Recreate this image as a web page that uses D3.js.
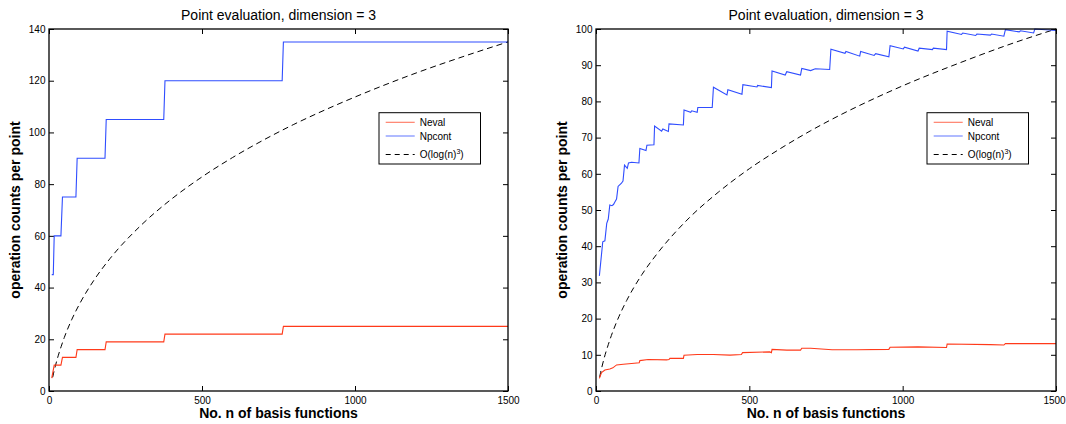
<!DOCTYPE html>
<html>
<head>
<meta charset="utf-8">
<script src="https://cdn.jsdelivr.net/npm/d3@7"></script>
<style>
    body { margin: 0; background: #fff; }
    svg { font-family: "Liberation Sans", Arial, Helvetica, sans-serif; }
    .tick text { font-size: 10px; fill: #000; }
    .tick line { stroke: #000; }
</style>
</head>
<body>
<svg id="chart" width="1066" height="424"></svg>
<script>
const titleText = "Point evaluation, dimension = 3";
const xLabelText = "No. n of basis functions";
const yLabelText = "operation counts per point";
const legendLabels = ["Neval", "Npcont", "O(log(n)"];

const xTicks = [0, 500, 1000, 1500];
const leftYTicks = [0, 20, 40, 60, 80, 100, 120, 140];
const rightYTicks = [0, 10, 20, 30, 40, 50, 60, 70, 80, 90, 100];

// left panel
const leftNevalN = [9, 17, 39, 44, 88, 92, 183, 187, 375, 379, 762, 766, 1500];
const leftNeval = [5, 10, 10, 13, 13, 16, 16, 19, 19, 22, 22, 25, 25];
const leftNpcontN = [9, 14, 17, 39, 44, 88, 92, 183, 187, 375, 379, 762, 766, 1500];
const leftNpcont = [45, 45, 60, 60, 75, 75, 90, 90, 105, 105, 120, 120, 135, 135];
const leftRefN = [12, 15, 20, 30, 40, 50, 75, 100, 150, 200, 300, 400, 500, 600, 700, 800, 900, 1000, 1200, 1350, 1500];
const leftRef = [5.3, 6.9, 9.3, 13.6, 17.3, 20.7, 27.8, 33.7, 43.4, 51.3, 64.0, 74.2, 82.8, 90.3, 97.0, 103.1, 108.6, 113.7, 123.0, 129.2, 135];

// right panel
const rightNevalN = [11, 18, 29, 45, 55, 67, 89, 116, 141, 143, 170, 230, 238, 241, 285, 287, 330, 383, 437, 474,
    478, 566, 572, 574, 622, 667, 671, 700, 770, 850, 955, 959, 1050, 1143, 1145, 1286, 1330, 1335, 1500];
const rightNeval = [3.5, 5.1, 5.8, 6.1, 6.4, 7.2, 7.4, 7.6, 7.8, 8.4, 8.7, 8.6, 8.7, 9.0, 9.0, 9.9, 10.1, 10.1, 9.9, 10.1,
    10.6, 10.8, 10.6, 11.5, 11.3, 11.3, 11.8, 11.8, 11.4, 11.4, 11.5, 12.1, 12.2, 12.0, 13.0, 12.8, 12.7, 13.1, 13.1];
const rightNpcontN = [11, 22, 29, 35, 40, 45, 52, 57, 62, 67, 72, 83, 88, 93, 102, 106, 116, 140, 143, 163,
    166, 189, 191, 214, 218, 236, 238, 285, 287, 309, 312, 330, 332, 379, 383, 427, 430, 476, 479, 525,
    527, 572, 574, 617, 622, 667, 671, 700, 715, 762, 766, 812, 815, 860, 863, 907, 912, 955, 959, 1002,
    1006, 1050, 1054, 1097, 1100, 1143, 1145, 1192, 1196, 1238, 1242, 1286, 1290, 1330, 1335, 1380, 1384, 1427, 1431, 1500];
const rightNpcont = [31.8, 41.2, 41.5, 46.3, 47.5, 51.4, 51.2, 51.5, 52.3, 53.0, 56.5, 57.4, 58.0, 62.4, 61.5, 63.0, 63.2, 63.0, 67.0, 66.4,
    67.9, 68.0, 73.2, 71.8, 72.4, 71.7, 73.8, 73.5, 77.6, 77.0, 77.4, 77.0, 78.3, 78.3, 83.9, 81.8, 83.2, 82.0, 84.6, 84.0,
    84.4, 83.8, 88.4, 87.3, 88.2, 87.3, 89.1, 88.5, 89.0, 88.8, 94.4, 93.3, 93.8, 92.5, 93.8, 92.7, 93.2, 92.3, 95.4, 94.5,
    95.0, 93.9, 94.7, 94.3, 94.7, 94.3, 99.4, 98.5, 98.9, 98.2, 98.6, 98.3, 98.6, 98.0, 99.8, 99.2, 99.5, 98.9, 100, 99.6];
const rightRefN = leftRefN;
const rightRef = [3.9, 5.1, 6.9, 10.1, 12.8, 15.3, 20.6, 25.0, 32.2, 38.0, 47.5, 55.0, 61.4, 66.9, 71.9, 76.4, 80.5, 84.3, 91.1, 95.8, 100];

const nevalColor = "#ff3a1a";
const npcontColor = "#2f4dff";
const tickLen = 5;

const svg = d3.select("#chart");

const zip = (ns, vs) => ns.map((n, i) => [n, vs[i]]);

function drawPanel(p) {
    const x = d3.scaleLinear().domain([0, 1500]).range([p.left, p.right]);
    const y = d3.scaleLinear().domain([0, p.yMax]).range([p.bottom, p.top]);
    const g = svg.append("g");

    // axes, ticks pointing inside on all four sides
    const xb = g.append("g")
        .attr("transform", `translate(0,${p.bottom})`)
        .call(d3.axisBottom(x).tickValues(xTicks).tickSize(-tickLen).tickPadding(6).tickFormat(d3.format("d")));
    // keep the last label inside the window
    if (p.right > 1050) xb.selectAll(".tick text").filter(d => d === 1500).attr("dx", -2);
    g.append("g")
        .attr("transform", `translate(0,${p.top})`)
        .call(d3.axisTop(x).tickValues(xTicks).tickSize(-tickLen).tickFormat(""));
    g.append("g")
        .attr("transform", `translate(${p.left},0)`)
        .call(d3.axisLeft(y).tickValues(p.yTicks).tickSize(-tickLen).tickPadding(3.5));
    g.append("g")
        .attr("transform", `translate(${p.right},0)`)
        .call(d3.axisRight(y).tickValues(p.yTicks).tickSize(-tickLen).tickFormat(""));
    g.selectAll(".domain").remove();
    g.selectAll("g").attr("font-family", null).attr("font-size", null);

    const line = d3.line().x(d => x(d[0])).y(d => y(d[1]));

    g.append("path")
        .datum(zip(p.refN, p.ref))
        .attr("d", line.curve(d3.curveMonotoneX))
        .attr("fill", "none")
        .attr("stroke", "#000")
        .attr("stroke-width", 1)
        .attr("stroke-dasharray", "6,4");
    line.curve(d3.curveLinear);
    g.append("path")
        .datum(zip(p.nevalN, p.neval))
        .attr("d", line)
        .attr("fill", "none")
        .attr("stroke", nevalColor)
        .attr("stroke-width", 1.1);
    g.append("path")
        .datum(zip(p.npcontN, p.npcont))
        .attr("d", line)
        .attr("fill", "none")
        .attr("stroke", npcontColor)
        .attr("stroke-width", 1.1);

    // box
    g.append("rect")
        .attr("x", p.left).attr("y", p.top)
        .attr("width", p.right - p.left).attr("height", p.bottom - p.top)
        .attr("fill", "none").attr("stroke", "#000").attr("stroke-width", 1.3);

    // labels
    const cx = (p.left + p.right) / 2;
    g.append("text").text(titleText)
        .attr("x", cx).attr("y", 20)
        .attr("text-anchor", "middle").attr("font-size", 14);
    g.append("text").text(xLabelText)
        .attr("x", cx).attr("y", 418)
        .attr("text-anchor", "middle").attr("font-size", 14).attr("font-weight", "bold");
    g.append("text").text(yLabelText)
        .attr("transform", `translate(${p.left - 29.5},${(p.top + p.bottom) / 2}) rotate(-90)`)
        .attr("text-anchor", "middle").attr("font-size", 14).attr("font-weight", "bold");

    // legend
    const lw = 101.5, lx = p.right - 27.5 - lw, ly = 112.7;
    const lg = g.append("g").attr("transform", `translate(${lx},${ly})`);
    lg.append("rect")
        .attr("width", lw).attr("height", 51.3)
        .attr("fill", "#fff").attr("stroke", "#000").attr("stroke-width", 1);
    const rows = [
        { label: legendLabels[0], color: nevalColor, dash: null, cy: 9.6 },
        { label: legendLabels[1], color: npcontColor, dash: null, cy: 23.3 },
        { label: legendLabels[2], color: "#000", dash: "5,4", cy: 41.8 }
    ];
    rows.forEach((r, i) => {
        lg.append("line")
            .attr("x1", 6.7).attr("x2", 35.7).attr("y1", r.cy).attr("y2", r.cy)
            .attr("stroke", r.color).attr("stroke-width", 1.1)
            .attr("stroke-opacity", i < 2 ? 0.7 : 1)
            .attr("stroke-dasharray", r.dash);
        const t = lg.append("text")
            .attr("x", 40.7).attr("y", r.cy + 3.6)
            .attr("font-size", 10).text(r.label);
        if (i === 2) {
            t.append("tspan").text("3").attr("font-size", 7).attr("dy", -4.5);
            t.append("tspan").text(")").attr("dy", 4.5);
        }
    });
}

drawPanel({
    left: 49, right: 508, top: 29, bottom: 391, yMax: 140, yTicks: leftYTicks,
    nevalN: leftNevalN, neval: leftNeval, npcontN: leftNpcontN, npcont: leftNpcont,
    refN: leftRefN, ref: leftRef
});
drawPanel({
    left: 596, right: 1056, top: 29, bottom: 391, yMax: 100, yTicks: rightYTicks,
    nevalN: rightNevalN, neval: rightNeval, npcontN: rightNpcontN, npcont: rightNpcont,
    refN: rightRefN, ref: rightRef
});
</script>
</body>
</html>
